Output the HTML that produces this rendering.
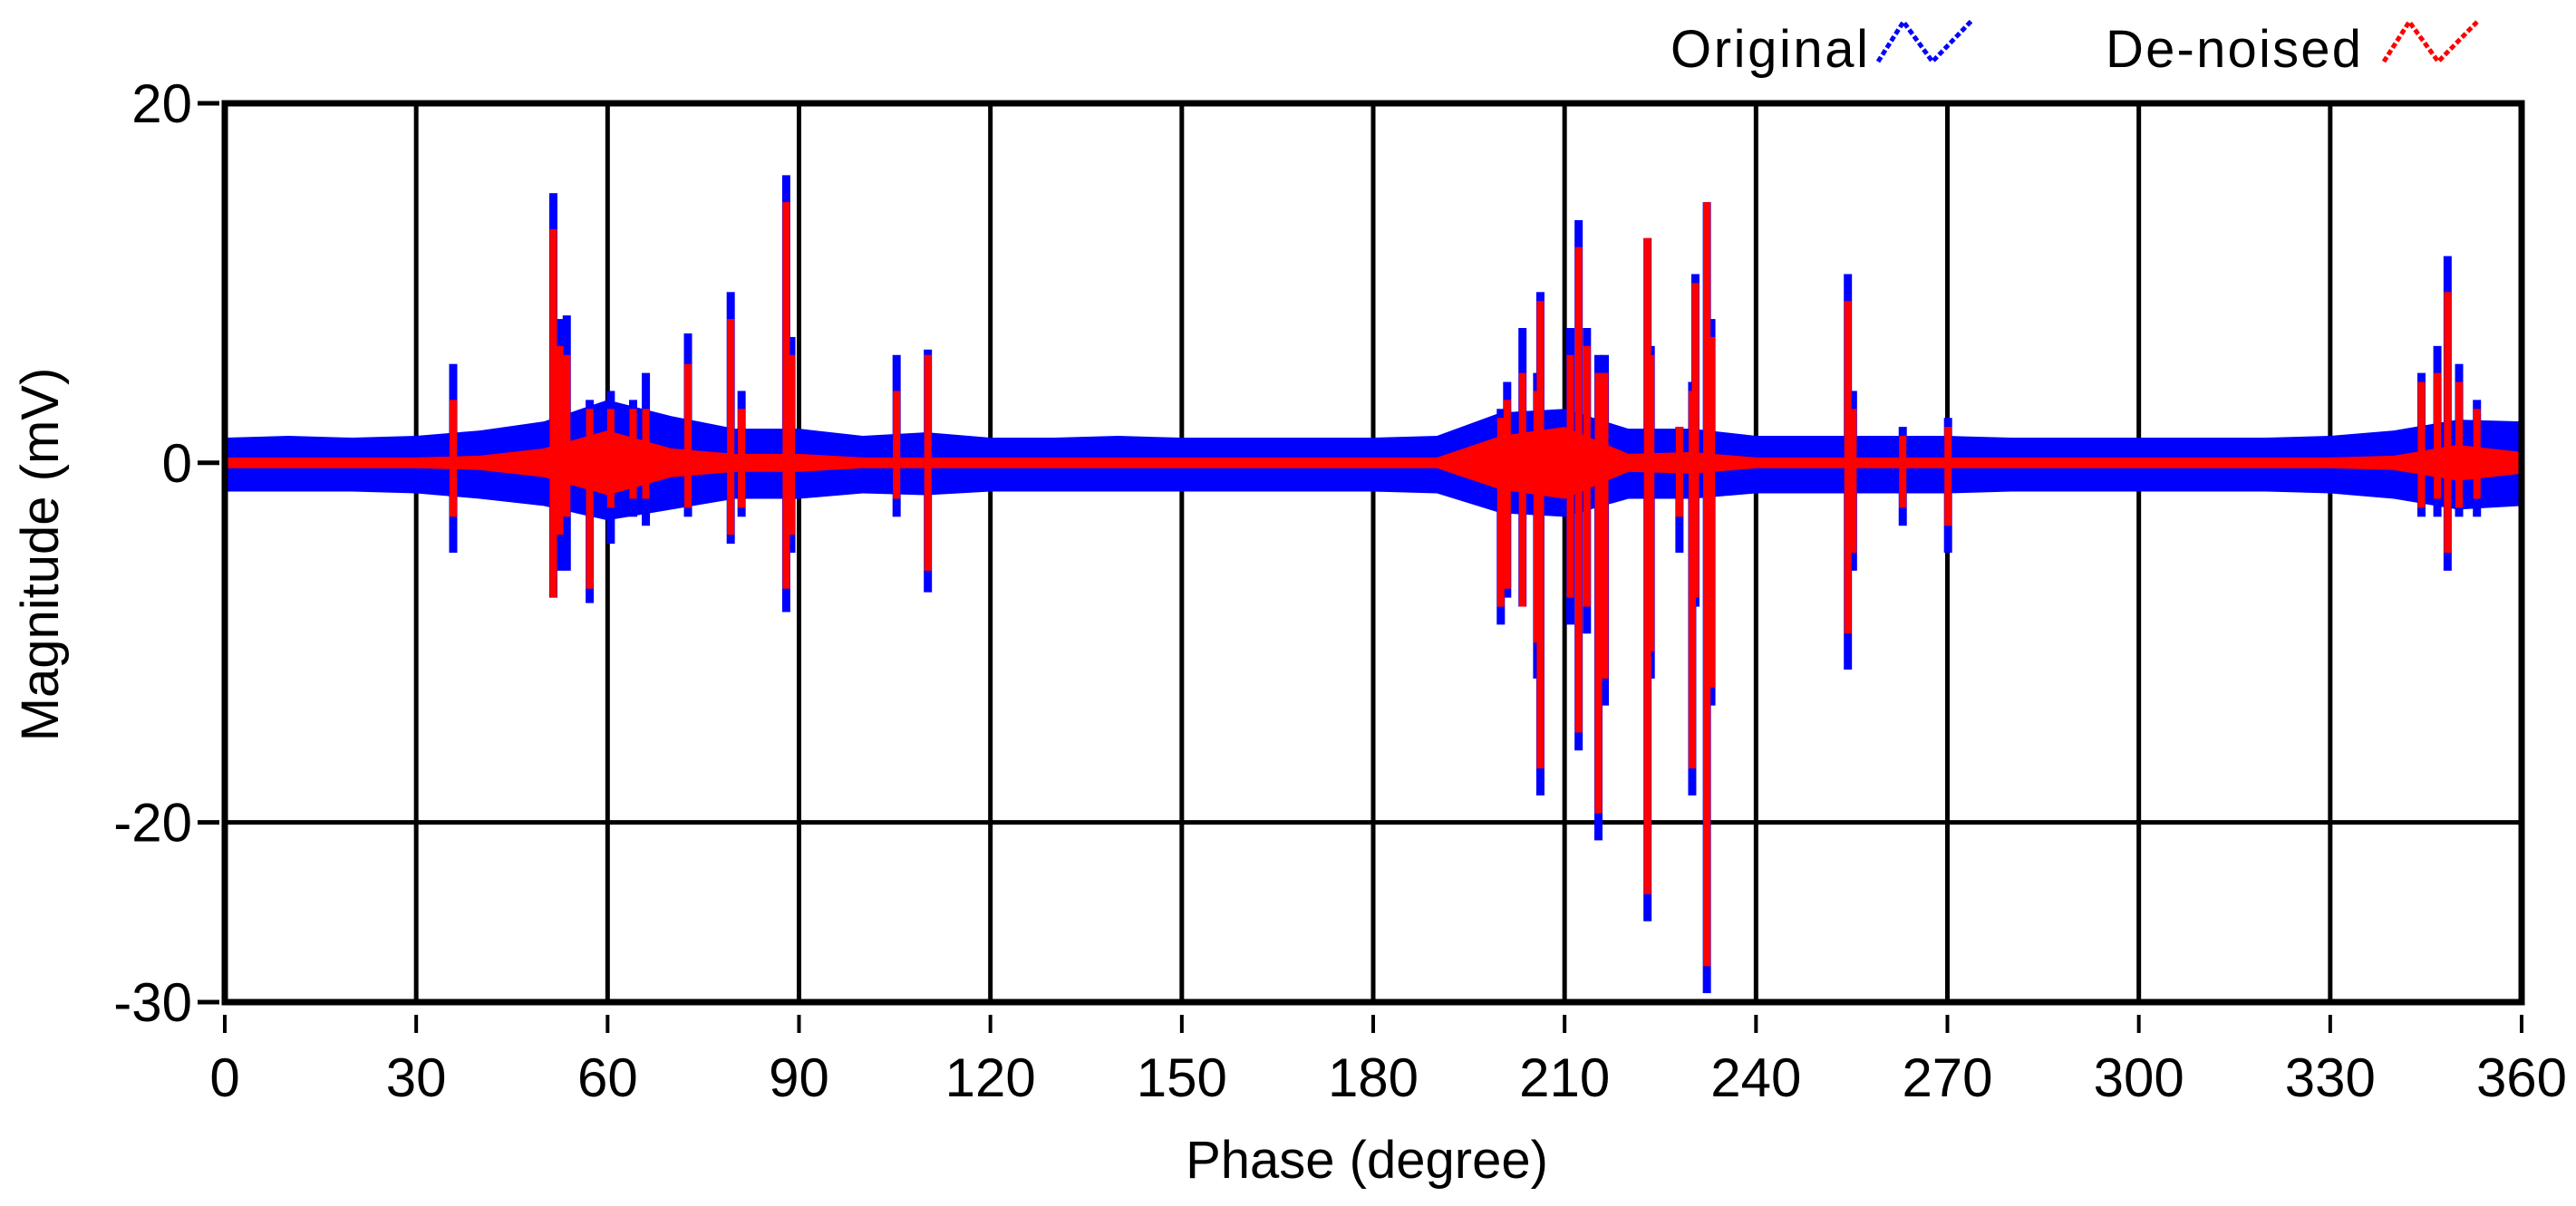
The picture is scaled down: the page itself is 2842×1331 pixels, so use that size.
<!DOCTYPE html>
<html><head><meta charset="utf-8"><style>
html,body{margin:0;padding:0;background:#fff;}
svg text{font-family:"Liberation Sans",sans-serif;fill:#000;}
</style></head><body>
<svg id="chart" width="2842" height="1326" xmlns="http://www.w3.org/2000/svg">
<g id="grid"></g>
<g id="series"></g>
<g id="axes"></g>
<g>
<text x="1843" y="74" font-size="58" textLength="218">Original</text>
<polyline points="2072,68 2100,24 2132,68 2176,22" fill="none" stroke="#0000ff" stroke-width="5" stroke-dasharray="6,3"/>
<text x="2323" y="74" font-size="58" textLength="282">De-noised</text>
<polyline points="2630,68 2658,24 2690,68 2735,22" fill="none" stroke="#ff0000" stroke-width="5" stroke-dasharray="6,3"/>
</g>
<text x="1508" y="1300" font-size="58" text-anchor="middle">Phase (degree)</text>
<text transform="translate(64,612) rotate(-90)" font-size="58" text-anchor="middle">Magnitude (mV)</text>
</svg>
<script>
const xTicks=[0,30,60,90,120,150,180,210,240,270,300,330,360];
const yTicks=[20,0,-20,-30];
const envPhase=[0,10,20,30,40,50,60,70,80,90,100,110,120,130,140,150,160,170,180,190,200,210,220,230,240,250,260,270,280,290,300,310,320,330,340,350,360];
const origUpper=[1.4,1.5,1.4,1.5,1.8,2.3,3.5,2.6,1.9,1.9,1.5,1.7,1.4,1.4,1.5,1.4,1.4,1.4,1.4,1.5,2.8,3,1.9,1.9,1.5,1.5,1.5,1.5,1.4,1.4,1.4,1.4,1.4,1.5,1.8,2.4,2.3];
const origLower=[-1.6,-1.6,-1.6,-1.7,-2,-2.4,-3.2,-2.6,-2,-2,-1.7,-1.8,-1.6,-1.6,-1.6,-1.6,-1.6,-1.6,-1.6,-1.7,-2.8,-3,-2,-2,-1.7,-1.7,-1.7,-1.7,-1.6,-1.6,-1.6,-1.6,-1.6,-1.7,-2,-2.6,-2.4];
const denUpper=[0.3,0.3,0.3,0.3,0.4,0.8,1.8,0.8,0.5,0.5,0.3,0.3,0.3,0.3,0.3,0.3,0.3,0.3,0.3,0.3,1.5,2,0.5,0.6,0.3,0.3,0.3,0.3,0.3,0.3,0.3,0.3,0.3,0.3,0.4,1,0.6];
const denLower=[-0.3,-0.3,-0.3,-0.3,-0.4,-0.8,-1.8,-0.8,-0.5,-0.5,-0.3,-0.3,-0.3,-0.3,-0.3,-0.3,-0.3,-0.3,-0.3,-0.3,-1.5,-2,-0.5,-0.6,-0.3,-0.3,-0.3,-0.3,-0.3,-0.3,-0.3,-0.3,-0.3,-0.3,-0.4,-1,-0.6];
const spikePhase=[35.8,51.5,52.5,53.6,57.2,60.5,64,66,72.6,79.3,81,88,88.8,105.3,110.2,200,201,203.4,205.7,206.2,210.9,212.2,213.5,215.3,216.3,223,223.5,228,230,230.5,232.3,233,254.4,255.2,263,270.1,344.3,346.8,348.4,350.2,353];
const origMax=[5.5,15,8,8.2,3.5,4,3.5,5,7.2,9.5,4,16,7,6,6.3,3,4.5,7.5,5,9.5,7.5,13.5,7.5,6,6,12.5,6.5,2,4.5,10.5,14.5,8,10.5,4,2,2.5,5,6.5,11.5,5.5,3.5];
const origMin=[-5,-7.5,-6,-6,-7.8,-4.5,-3,-3.5,-3,-4.5,-3,-8.3,-5,-3,-7.2,-9,-7.5,-8,-12,-18.5,-9,-16,-9.5,-21,-13.5,-25.5,-12,-5,-18.5,-8,-29.5,-13.5,-11.5,-6,-3.5,-5,-3,-3,-6,-3,-3];
const denMax=[3.5,13,6.5,6,3,3,3,3,5.5,8,3,14.5,6,4,6,2.5,3.5,5,4,9,6,12,6.5,5,5,12.5,6,2,4,10,14.5,7,9,3,1.5,2,4.5,5,9.5,4.5,3];
const denMin=[-3,-7.5,-4,-3,-7,-2.5,-2,-2,-2.5,-4,-2.5,-7,-4,-2,-6,-8,-7,-8,-10,-17,-7.5,-15,-8,-19.5,-12,-24,-10.5,-3,-17,-7.5,-28,-12.5,-9.5,-5,-2.5,-3.5,-2.5,-2,-5,-2.5,-2];

const L=248,R=2782,T=114,B=1106;
const xs=p=>L+(p/360)*(R-L);
const ys=v=>T+(20-v)/50*(B-T);
const NS='http://www.w3.org/2000/svg';
function mk(tag,parent){const e=document.createElementNS(NS,tag);parent.appendChild(e);return e;}
const grid=document.getElementById('grid'),series=document.getElementById('series'),axes=document.getElementById('axes');

xTicks.forEach(t=>{
  if(t===0||t===360)return;
  const l=mk('line',grid);
  
  
  l.setAttribute('x1',xs(t));l.setAttribute('x2',xs(t));l.setAttribute('y1',T);l.setAttribute('y2',B);
  l.setAttribute('stroke','#000');l.setAttribute('stroke-width','5');
});
yTicks.forEach(t=>{
  if(t===20||t===-30)return;
  const l=mk('line',grid);
  
  
  l.setAttribute('x1',L);l.setAttribute('x2',R);l.setAttribute('y1',ys(t));l.setAttribute('y2',ys(t));
  l.setAttribute('stroke','#000');l.setAttribute('stroke-width','5');
});

function band(up,lo,color,name){
  let pts=[];
  envPhase.forEach((p,i)=>pts.push(xs(p)+','+ys(up[i])));
  for(let i=envPhase.length-1;i>=0;i--)pts.push(xs(envPhase[i])+','+ys(lo[i]));
  const pg=mk('polygon',series);
  
  
  pg.setAttribute('points',pts.join(' '));pg.setAttribute('fill',color);
}
function spikes(mx,mn,color,name,w){
  spikePhase.forEach((p,i)=>{
    const r=mk('rect',series);
    
    
    r.setAttribute('x',xs(p)-w/2);r.setAttribute('width',w);
    r.setAttribute('y',ys(mx[i]));r.setAttribute('height',ys(mn[i])-ys(mx[i]));
    r.setAttribute('fill',color);
  });
}
band(origUpper,origLower,'#0000ff','original-band');
spikes(origMax,origMin,'#0000ff','original-spike',9);
band(denUpper,denLower,'#ff0000','denoised-band');
spikes(denMax,denMin,'#ff0000','denoised-spike',8);

const fr=mk('rect',axes);


fr.setAttribute('x',L);fr.setAttribute('y',T);fr.setAttribute('width',R-L);fr.setAttribute('height',B-T);
fr.setAttribute('fill','none');fr.setAttribute('stroke','#000');fr.setAttribute('stroke-width','7');

xTicks.forEach(t=>{
  const tk=mk('line',axes);
  
  
  tk.setAttribute('x1',xs(t));tk.setAttribute('x2',xs(t));tk.setAttribute('y1',B+14);tk.setAttribute('y2',B+34);
  tk.setAttribute('stroke','#000');tk.setAttribute('stroke-width','4');
  const tx=mk('text',axes);
  
  
  tx.setAttribute('x',xs(t));tx.setAttribute('y',B+104);tx.setAttribute('font-size','60');tx.setAttribute('text-anchor','middle');
  tx.textContent=t;
});
yTicks.forEach(t=>{
  const tk=mk('line',axes);
  
  
  tk.setAttribute('x1',L-30);tk.setAttribute('x2',L-6);tk.setAttribute('y1',ys(t));tk.setAttribute('y2',ys(t));
  tk.setAttribute('stroke','#000');tk.setAttribute('stroke-width','5');
  const tx=mk('text',axes);
  
  
  tx.setAttribute('x',L-36);tx.setAttribute('y',ys(t)+21);tx.setAttribute('font-size','60');tx.setAttribute('text-anchor','end');
  tx.textContent=t;
});
</script>
</body></html>
